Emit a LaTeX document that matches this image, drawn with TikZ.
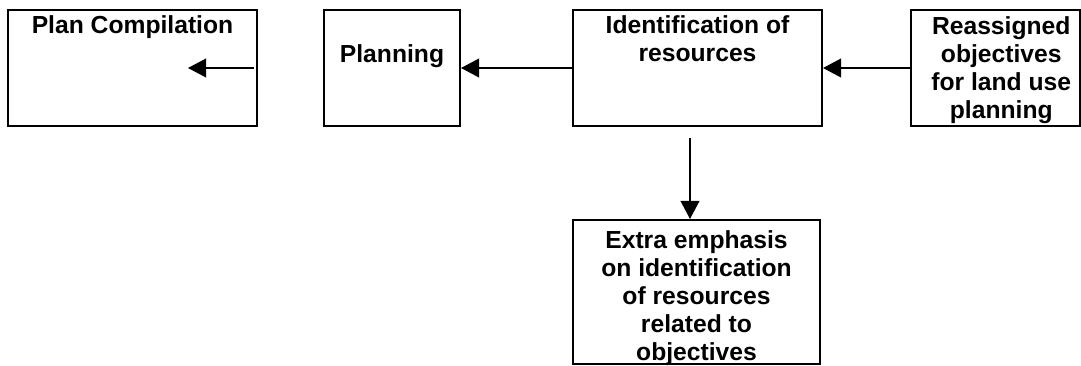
\documentclass[tikz,border=0pt]{standalone}
\usepackage{fontspec}
\setmainfont{Liberation Sans}
\usetikzlibrary{arrows.meta,positioning}

\begin{document}
\begin{tikzpicture}[x=0.75pt, y=-0.75pt,
  box/.style={draw, line width=1.5pt, inner sep=0pt},
  txt/.style={align=center, inner sep=0pt, font=\bfseries\fontsize{18.5}{21}\selectfont},
  >={Triangle[length=13.5pt, width=14pt]}]
  \useasboundingbox (0,0) rectangle (1081,366);
  % boxes
  \node[box, minimum width=186.75pt, minimum height=87pt] (plan) at (132.5,68) {};
  \node[box, minimum width=102pt, minimum height=87pt] (planning) at (392,68) {};
  \node[box, minimum width=186.75pt, minimum height=87pt] (ident) at (697.5,68) {};
  \node[box, minimum width=126.4pt, minimum height=87pt] (reassign) at (995.25,68) {};
  \node[box, minimum width=185.25pt, minimum height=108pt] (emph) at (696.5,292) {};
  % texts
  \node[txt, below=4.5pt of plan.north] (plantxt) {Plan Compilation};
  \node[txt, below=26.25pt of planning.north] (planningtxt) {Planning};
  \node[txt, below=4.5pt of ident.north] (identtxt) {Identification of\\resources};
  \node[txt, below=5.25pt of reassign.north, xshift=4.5pt] (reassigntxt) {Reassigned\\objectives\\for land use\\planning};
  \node[txt, below=8.25pt of emph.north] (emphtxt) {Extra emphasis\\on identification\\of resources\\related to\\objectives};
  % connectors
  \coordinate (stop) at (188,68);
  \coordinate (drop) at (690,138);
  \path[->, line width=1.2pt]
  ([xshift=-3pt]plan.east) edge (stop)
  (ident) edge (planning)
  (reassign) edge (ident)
  (drop) edge (drop |- emph.north)
  ;
\end{tikzpicture}
\end{document}
